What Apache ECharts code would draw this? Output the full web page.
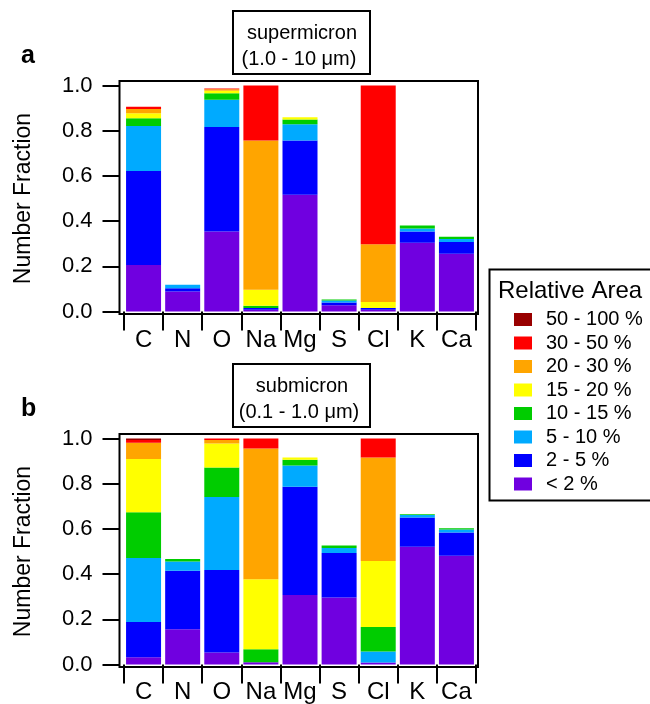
<!DOCTYPE html>
<html><head><meta charset="utf-8">
<script src="https://cdn.jsdelivr.net/npm/echarts@6/dist/echarts.min.js"></script>
<style>html,body{margin:0;padding:0;background:#fff;}#c{width:650px;height:704px;}</style>
</head><body><div id="c"></div>
<script>
// Categories (elements)
const categories = ['C','N','O','Na','Mg','S','Cl','K','Ca'];
// Legend bins (bottom of stack first)
const bins = ['< 2 %','2 - 5 %','5 - 10 %','10 - 15 %','15 - 20 %','20 - 30 %','30 - 50 %','50 - 100 %'];
const yTicks = [0, 0.2, 0.4, 0.6, 0.8, 1.0];

// Panel a: supermicron (segment heights per bin)
const superLt2   = [0.206, 0.088, 0.354, 0.008, 0.517, 0.028, 0.008, 0.304, 0.256];
const super2to5  = [0.416, 0.015, 0.462, 0.008, 0.240, 0.012, 0.007, 0.050, 0.052];
const super5to10 = [0.199, 0.015, 0.121, 0.000, 0.072, 0.009, 0.000, 0.013, 0.013];
const super10to15= [0.034, 0.000, 0.029, 0.009, 0.021, 0.004, 0.000, 0.013, 0.010];
const super15to20= [0.022, 0.000, 0.011, 0.071, 0.010, 0.000, 0.027, 0.000, 0.000];
const super20to30= [0.019, 0.000, 0.006, 0.661, 0.000, 0.000, 0.256, 0.000, 0.000];
const super30to50= [0.010, 0.000, 0.004, 0.243, 0.000, 0.000, 0.702, 0.000, 0.000];
const super50to100=[0.000, 0.000, 0.000, 0.000, 0.000, 0.000, 0.000, 0.000, 0.000];

// Panel b: submicron
const subLt2   = [0.032, 0.156, 0.053, 0.010, 0.307, 0.296, 0.009, 0.521, 0.481];
const sub2to5  = [0.156, 0.259, 0.365, 0.000, 0.480, 0.197, 0.000, 0.129, 0.103];
const sub5to10 = [0.283, 0.041, 0.323, 0.000, 0.094, 0.022, 0.048, 0.011, 0.013];
const sub10to15= [0.203, 0.011, 0.131, 0.057, 0.025, 0.011, 0.109, 0.004, 0.006];
const sub15to20= [0.235, 0.000, 0.106, 0.310, 0.010, 0.000, 0.292, 0.000, 0.000];
const sub20to30= [0.072, 0.000, 0.015, 0.579, 0.000, 0.000, 0.458, 0.000, 0.000];
const sub30to50= [0.012, 0.000, 0.007, 0.044, 0.000, 0.000, 0.084, 0.000, 0.000];
const sub50to100=[0.007, 0.000, 0.000, 0.000, 0.000, 0.000, 0.000, 0.000, 0.000];

const superData = [superLt2, super2to5, super5to10, super10to15, super15to20, super20to30, super30to50, super50to100];
const subData = [subLt2, sub2to5, sub5to10, sub10to15, sub15to20, sub20to30, sub30to50, sub50to100];
const colors = ['#7000E0','#0000FF','#00AAFF','#00CC00','#FFFF00','#FFA500','#FF0000','#990000'];

const FONT = 'Liberation Sans, Arial, sans-serif';
const chart = echarts.init(document.getElementById('c'), null, {renderer:'canvas'});

function xAx(idx, offset){
  return {type:'category', gridIndex:idx, data:categories, offset:offset,
    axisLine:{show:false},
    axisTick:{show:true, alignWithLabel:false, length:19, lineStyle:{color:'#000', width:2}},
    axisLabel:{color:'#000', fontSize:24, fontFamily:FONT, margin:14, interval:0}};
}
function yAx(idx){
  return {type:'value', gridIndex:idx, min:0, max:1, interval:0.2, offset:4.5,
    name:'Number Fraction', nameLocation:'middle', nameGap:84,
    nameTextStyle:{color:'#000', fontSize:23, fontFamily:FONT},
    splitLine:{show:false}, axisLine:{show:false},
    axisTick:{show:true, length:17, lineStyle:{color:'#000', width:2}},
    axisLabel:{color:'#000', fontSize:22, fontFamily:FONT, margin:27,
      formatter:v => yTicks.some(t => Math.abs(t-v)<1e-9) ? v.toFixed(1) : ''}};
}

const series = [];
[superData, subData].forEach((panel, p) => {
  panel.forEach((arr, i) => {
    series.push({type:'bar', name:bins[i], stack:'s'+p, xAxisIndex:p, yAxisIndex:p,
      data:arr, barWidth:35, itemStyle:{color:colors[i]}});
  });
});

function titleBox(y, l1, l2){
  return {type:'group', children:[
    {type:'rect', shape:{x:233, y:y, width:137, height:63}, style:{fill:'#fff', stroke:'#000', lineWidth:2}},
    {type:'text', x:302, y:y+22, style:{text:l1, fill:'#000', font:'20px '+FONT, textAlign:'center', textVerticalAlign:'middle'}},
    {type:'text', x:299, y:y+48, style:{text:l2, fill:'#000', font:'20px '+FONT, textAlign:'center', textVerticalAlign:'middle'}}
  ]};
}

chart.setOption({
  animation:false,
  backgroundColor:'#fff',
  grid:[
    {left:124, top:85.5, width:352, height:226},
    {left:124, top:438.5, width:352, height:227}
  ],
  xAxis:[xAx(0, 2.5), xAx(1, 1.5)],
  yAxis:[yAx(0), yAx(1)],
  legend:{
    data:bins.slice().reverse(), orient:'vertical', left:509, top:304.5,
    itemWidth:18, itemHeight:13, itemGap:3.5, icon:'rect',
    selectedMode:false,
    textStyle:{color:'#000', fontSize:20, fontFamily:FONT, padding:[0,0,0,9]}
  },
  series:series,
  graphic:[
    {type:'rect', z:100, shape:{x:119.5, y:81, width:358.5, height:233}, style:{fill:'none', stroke:'#000', lineWidth:2}},
    {type:'rect', z:100, shape:{x:119.5, y:434, width:358.5, height:233}, style:{fill:'none', stroke:'#000', lineWidth:2}},
    {type:'rect', z:100, shape:{x:489.5, y:269.5, width:200, height:231}, style:{fill:'none', stroke:'#000', lineWidth:2}},
    {type:'text', z:100, x:498, y:291, style:{text:'Relative Area', fill:'#000', font:'24px '+FONT, textVerticalAlign:'middle'}},
    titleBox(11, 'supermicron', '(1.0 - 10 μm)'),
    titleBox(364, 'submicron', '(0.1 - 1.0 μm)'),
    {type:'text', x:21, y:56, style:{text:'a', fill:'#000', font:'bold 25px '+FONT, textVerticalAlign:'middle'}},
    {type:'text', x:21, y:409, style:{text:'b', fill:'#000', font:'bold 25px '+FONT, textVerticalAlign:'middle'}}
  ]
});
</script></body></html>
